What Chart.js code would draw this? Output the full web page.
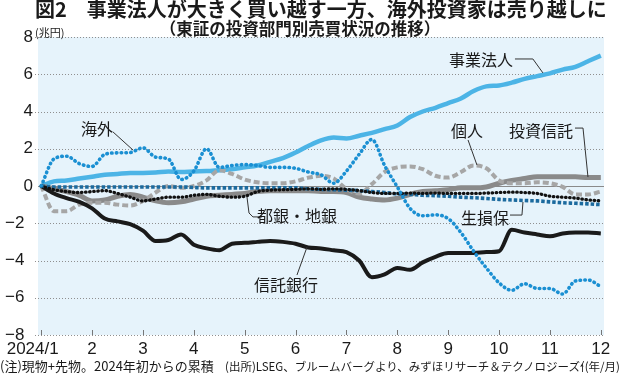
<!DOCTYPE html>
<html><head><meta charset="utf-8">
<script src="https://cdn.jsdelivr.net/npm/chart.js@4/dist/chart.umd.min.js"></script>
<style>
html,body{margin:0;padding:0;background:#fff;}
#wrap{position:relative;width:620px;height:375px;overflow:hidden;background:#fff;}
#c{position:absolute;left:0;top:0;}
.t{position:absolute;white-space:nowrap;color:#1a1a1a;font-family:'Noto Sans CJK JP',sans-serif;}
.title{left:35px;top:-2px;font-size:20px;font-weight:bold;line-height:21px;}
.sub{left:0;width:600px;text-align:center;top:20px;font-size:16.5px;font-weight:bold;line-height:17px;}
.unit{left:35px;top:26px;font-size:11px;line-height:12px;}
.note1{left:0;top:359px;font-size:13px;line-height:14px;}
.note2{left:225px;top:359px;font-size:11.5px;line-height:14px;}
.ym{right:0;top:359px;font-size:11.5px;line-height:14px;background:#fff;padding-left:1px;}
</style></head>
<body>
<div id="wrap">
<canvas id="c" width="620" height="375"></canvas>
<div class="t title">図2　事業法人が大きく買い越す一方、海外投資家は売り越しに</div>
<div class="t sub">（東証の投資部門別売買状況の推移）</div>
<div class="t unit">(兆円)</div>
<div class="t note1">(注)現物+先物。2024年初からの累積</div>
<div class="t note2">(出所)LSEG、ブルームバーグより、みずほリサーチ＆テクノロジーズ作成</div>
<div class="t ym">(年/月)</div>
</div>
<script>
// ---- data (trillion yen, cumulative from start of 2024; ~quarter-month steps) ----
const months = ['2024/1','2','3','4','5','6','7','8','9','10','11','12'];
const yTicks = [8,6,4,2,0,-2,-4,-6,-8];

const corp = [0,0.25,0.3,0.4,0.5,0.6,0.65,0.7,0.7,0.72,0.78,0.75,0.78,0.8,0.85,0.9,1.0,1.1,1.3,1.5,1.8,2.15,2.45,2.6,2.55,2.7,2.85,3.05,3.25,3.7,4.0,4.2,4.45,4.7,5.1,5.35,5.4,5.55,5.75,5.9,6.05,6.25,6.4,6.7,7.0];
const foreign = [0,1.45,1.6,1.2,1.05,1.7,1.78,1.8,2.05,1.55,1.45,0.35,0.8,2.0,1.0,1.1,1.15,1.1,1.0,1.0,0.95,0.75,0.6,0.15,0.8,1.7,2.5,1.1,-0.05,-1.2,-1.6,-1.55,-1.75,-2.5,-3.5,-4.4,-5.2,-5.6,-5.25,-5.5,-5.5,-5.8,-5.1,-5.05,-5.4];
const individual = [0,-1.35,-1.35,-1.0,-0.9,-0.9,-1.0,-1.05,-0.8,-0.35,0.0,-0.1,0.0,0.3,0.85,0.65,0.35,0.2,0.15,0.15,0.25,0.45,0.55,0.4,-0.15,-0.4,0.1,0.75,1.0,1.05,0.9,0.55,0.45,0.75,1.1,0.95,0.3,0.15,0.15,0.2,0.15,-0.05,-0.45,-0.45,-0.3];
const invTrust = [0,-0.15,-0.3,-0.5,-0.8,-0.75,-0.55,-0.45,-0.6,-0.8,-0.9,-0.85,-0.7,-0.55,-0.5,-0.45,-0.4,-0.3,-0.25,-0.25,-0.25,-0.25,-0.3,-0.3,-0.35,-0.6,-0.7,-0.75,-0.65,-0.45,-0.3,-0.25,-0.2,-0.1,-0.1,-0.05,0.15,0.3,0.4,0.5,0.5,0.5,0.5,0.45,0.45];
const cityBanks = [0,-0.2,-0.3,-0.35,-0.3,-0.25,-0.4,-0.6,-0.8,-0.7,-0.6,-0.6,-0.5,-0.45,-0.55,-0.6,-0.55,-0.3,-0.22,-0.2,-0.18,-0.15,-0.18,-0.15,-0.18,-0.25,-0.35,-0.4,-0.4,-0.38,-0.4,-0.38,-0.4,-0.4,-0.4,-0.38,-0.35,-0.33,-0.35,-0.4,-0.55,-0.6,-0.65,-0.75,-0.8];
const insurers = [0,-0.05,-0.05,-0.05,-0.05,-0.05,-0.05,-0.05,-0.05,-0.05,-0.05,-0.05,-0.08,-0.1,-0.1,-0.1,-0.1,-0.1,-0.1,-0.1,-0.1,-0.15,-0.18,-0.2,-0.22,-0.25,-0.3,-0.35,-0.42,-0.45,-0.5,-0.52,-0.55,-0.6,-0.63,-0.67,-0.72,-0.75,-0.78,-0.8,-0.85,-0.9,-0.93,-0.96,-1.0];
const trustBanks = [0,-0.4,-0.65,-0.85,-1.2,-1.75,-1.9,-2.05,-2.4,-2.95,-2.9,-2.6,-3.15,-3.35,-3.45,-3.1,-3.05,-3.0,-2.95,-3.0,-3.1,-3.3,-3.35,-3.45,-3.55,-4.0,-4.9,-4.75,-4.4,-4.5,-4.1,-3.8,-3.6,-3.6,-3.6,-3.55,-3.5,-2.35,-2.5,-2.6,-2.7,-2.55,-2.5,-2.5,-2.55];

// series name labels, anchored in data units [step index, value]
const annotations = [
  {text:'事業法人', at:[34.58,6.77], leader:[[37.25,6.82],[38.66,6.82],[39.45,6.07]]},
  {text:'海外', at:[4.39,3.06], leader:[[5.65,2.90],[7.22,1.93]]},
  {text:'個人', at:[33.48,2.95], leader:[[33.56,2.47],[34.26,1.13]]},
  {text:'投資信託', at:[39.29,2.95], leader:[[41.97,3.11],[42.6,3.11],[42.99,0.48]]},
  {text:'都銀・地銀', at:[20.11,-1.61], leader:[[16.18,-0.59],[16.34,-1.45],[16.65,-1.66],[17.36,-1.66]]},
  {text:'生損保', at:[34.89,-1.72], leader:[[36.86,-1.56],[37.8,-1.56],[37.88,-0.86]]},
  {text:'信託銀行', at:[19.25,-5.32], leader:[[20.11,-4.78],[20.9,-3.28]]}
];

const STEPS_PER_MONTH = 4;
const monthIdx = months.map((_, k) => k * STEPS_PER_MONTH);
const toXY = arr => arr.map((v, i) => ({x: i, y: v}));

const bgPlugin = {
  id: 'bg',
  beforeDatasetsDraw(chart) {
    const {ctx, chartArea: a} = chart;
    const ys = chart.scales.y, xs = chart.scales.x;
    ctx.save();
    ctx.fillStyle = '#e6f3fb';
    ctx.fillRect(a.left, a.top, a.right - a.left, a.bottom - a.top);
    ctx.lineWidth = 1;
    yTicks.forEach(v => {
      const py = Math.round(ys.getPixelForValue(v)) + 0.5;
      ctx.beginPath();
      if (v === 0) { ctx.setLineDash([]); ctx.strokeStyle = '#8a8a8a'; ctx.moveTo(a.left, py); }
      else { ctx.setLineDash([1, 2]); ctx.strokeStyle = '#8f8f8f'; ctx.moveTo(a.left - 3, py); }
      ctx.lineTo(a.right, py);
      ctx.stroke();
    });
    ctx.setLineDash([]);
    ctx.strokeStyle = '#777';
    monthIdx.forEach(m => {
      const px = Math.round(xs.getPixelForValue(m)) + 0.5;
      ctx.beginPath();
      ctx.moveTo(px, a.bottom);
      ctx.lineTo(px, a.bottom - 5);
      ctx.stroke();
    });
    ctx.restore();
  }
};

const labelPlugin = {
  id: 'labels',
  afterDatasetsDraw(chart) {
    const {ctx} = chart;
    const xs = chart.scales.x, ys = chart.scales.y;
    ctx.save();
    annotations.forEach(an => {
      ctx.beginPath();
      ctx.strokeStyle = '#333';
      ctx.lineWidth = 1;
      an.leader.forEach((p, i) => {
        const px = xs.getPixelForValue(p[0]), py = ys.getPixelForValue(p[1]);
        if (i === 0) ctx.moveTo(px, py); else ctx.lineTo(px, py);
      });
      ctx.stroke();
      ctx.font = "16px 'Noto Sans CJK JP', sans-serif";
      ctx.fillStyle = '#1a1a1a';
      ctx.textAlign = 'center';
      ctx.textBaseline = 'middle';
      ctx.fillText(an.text, xs.getPixelForValue(an.at[0]), ys.getPixelForValue(an.at[1]));
    });
    ctx.restore();
  }
};

const common = {pointRadius: 0, pointHoverRadius: 0, fill: false, cubicInterpolationMode: 'monotone'};

new Chart(document.getElementById('c'), {
  type: 'line',
  data: {
    datasets: [
      Object.assign({label: '事業法人', data: toXY(corp), borderColor: '#4cb4e6', borderWidth: 4.5, order: 6}, common),
      Object.assign({label: '海外', data: toXY(foreign), borderColor: '#1a8fd2', borderWidth: 3.6, borderDash: [0.5, 4.3], borderCapStyle: 'round', order: 0}, common),
      Object.assign({label: '個人', data: toXY(individual), borderColor: '#a6a6a6', borderWidth: 4, borderDash: [6, 3], order: 4}, common),
      Object.assign({label: '投資信託', data: toXY(invTrust), borderColor: '#8a8a8a', borderWidth: 5, order: 5}, common),
      Object.assign({label: '都銀・地銀', data: toXY(cityBanks), borderColor: '#111', borderWidth: 3.3, borderDash: [0.5, 3.6], borderCapStyle: 'round', order: 1}, common),
      Object.assign({label: '生損保', data: toXY(insurers), borderColor: '#1b6a9e', borderWidth: 3.6, borderDash: [3.5, 2], order: 2}, common),
      Object.assign({label: '信託銀行', data: toXY(trustBanks), borderColor: '#1a1a1a', borderWidth: 4, order: 3}, common)
    ]
  },
  options: {
    responsive: false,
    animation: false,
    devicePixelRatio: 1,
    layout: {padding: {top: 37, right: 16, left: 0, bottom: 0}},
    plugins: {legend: {display: false}, tooltip: {enabled: false}, title: {display: false}},
    scales: {
      x: {
        type: 'linear', min: -0.25, max: (months.length - 1) * STEPS_PER_MONTH + 0.25,
        afterBuildTicks: s => { s.ticks = monthIdx.map(v => ({value: v})); },
        afterFit: s => { s.height = 40; },
        grid: {display: false, drawTicks: false},
        border: {display: false},
        ticks: {
          autoSkip: false, maxRotation: 0, padding: 4, color: '#1a1a1a',
          font: {family: "'Liberation Sans', Arial, sans-serif", size: 17},
          callback: v => { const k = Math.round(v / STEPS_PER_MONTH); return k === 0 ? months[0] + '\u2002\u2002' : months[k]; }
        }
      },
      y: {
        min: -8, max: 8,
        afterBuildTicks: s => { s.ticks = yTicks.map(v => ({value: v})); },
        afterFit: s => { s.width = 38; },
        grid: {display: false, drawTicks: false},
        border: {display: false},
        ticks: {
          padding: 5, color: '#1a1a1a',
          font: {family: "'Liberation Sans', Arial, sans-serif", size: 17},
          callback: v => v < 0 ? '\u2212' + (-v) + '\u2002' : String(v)
        }
      }
    }
  },
  plugins: [bgPlugin, labelPlugin]
});
</script>
</body></html>
